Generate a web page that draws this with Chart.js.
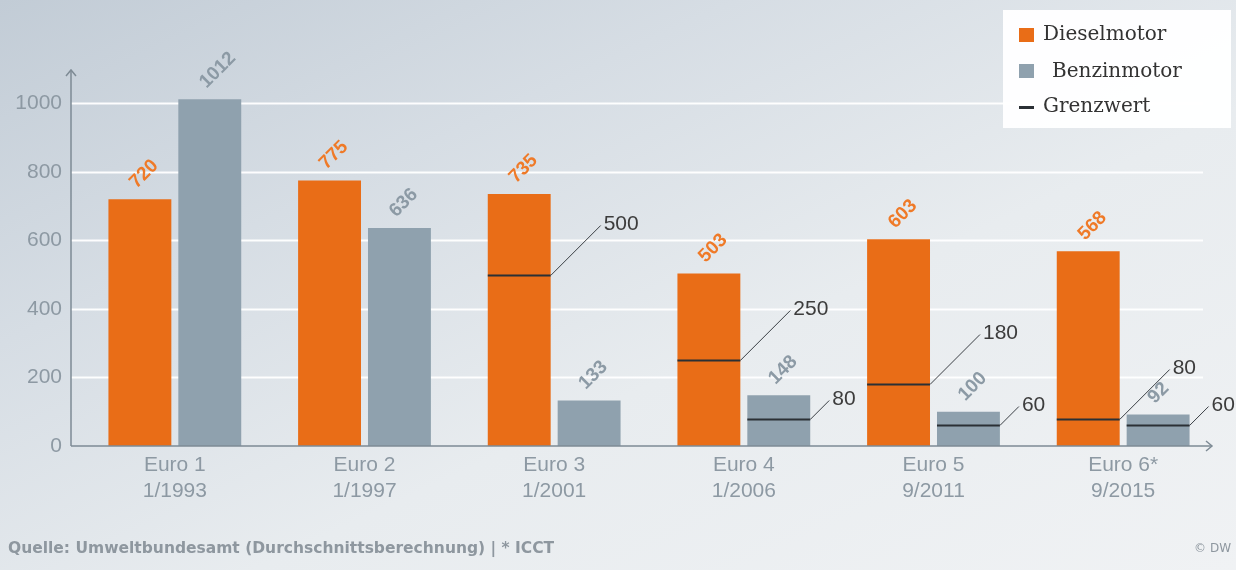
<!DOCTYPE html>
<html>
<head>
<meta charset="utf-8">
<script src="https://cdn.jsdelivr.net/npm/chart.js@4.4.1/dist/chart.umd.min.js"></script>
<style>
  html, body { margin: 0; padding: 0; }
  body {
    width: 1236px; height: 570px; overflow: hidden;
    background: linear-gradient(155deg, #c2ccd6 0%, #d6dde4 30%, #e8ecef 60%, #f0f2f4 100%);
  }
  #wrap { position: relative; width: 1236px; height: 570px; }
</style>
</head>
<body>
<div id="wrap"><canvas id="c" width="1236" height="570"></canvas></div>
<script>
// Emission categories (norm and date it came into force)
const categories = [
  ["Euro 1", "1/1993"],
  ["Euro 2", "1/1997"],
  ["Euro 3", "1/2001"],
  ["Euro 4", "1/2006"],
  ["Euro 5", "9/2011"],
  ["Euro 6*", "9/2015"]
];
// Average NOx emissions (mg/km)
const dieselValues = [720, 775, 735, 503, 603, 568];
const petrolValues = [1012, 636, 133, 148, 100, 92];
// Legal limits (Grenzwert), null where no limit is shown
const dieselLimits = [null, null, 500, 250, 180, 80];
const petrolLimits = [null, null, null, 80, 60, 60];
// Y axis tick values
const yTicks = [0, 200, 400, 600, 800, 1000];

const seriesNames = ["Dieselmotor", "Benzinmotor", "Grenzwert"];
const ORANGE = "#e96d17";
const GREY = "#8fa1ae";
const AXIS = "#7e8b95";
const TICK_TEXT = "#8d99a3";
const SANS = "'Liberation Sans', Arial, sans-serif";

const overlay = {
  id: "overlay",
  beforeDatasetsDraw(chart) {
    const { ctx, scales: { y }, chartArea } = chart;
    ctx.save();
    ctx.strokeStyle = "rgba(255,255,255,0.95)";
    ctx.lineWidth = 2;
    yTicks.forEach(v => {
      if (v === 0) return;
      const py = Math.round(y.getPixelForValue(v)) + 0.5;
      ctx.beginPath();
      ctx.moveTo(chartArea.left - 9, py);
      ctx.lineTo(chartArea.right - 15, py);
      ctx.stroke();
    });
    ctx.restore();
  },
  afterDatasetsDraw(chart) {
    const { ctx, scales: { y }, chartArea } = chart;
    const ax = chartArea.left - 9;
    const ay = y.getPixelForValue(0);
    ctx.save();

    // axes with arrow heads
    ctx.strokeStyle = AXIS;
    ctx.lineWidth = 1.5;
    ctx.beginPath();
    ctx.moveTo(ax, ay);
    ctx.lineTo(ax, chartArea.top + 1);
    ctx.moveTo(ax, ay);
    ctx.lineTo(chartArea.right - 6, ay);
    ctx.stroke();
    ctx.beginPath();
    ctx.moveTo(ax - 5, chartArea.top + 7);
    ctx.lineTo(ax, chartArea.top + 1);
    ctx.lineTo(ax + 5, chartArea.top + 7);
    ctx.moveTo(chartArea.right - 12, ay - 5);
    ctx.lineTo(chartArea.right - 6, ay);
    ctx.lineTo(chartArea.right - 12, ay + 5);
    ctx.stroke();

    // rotated value labels
    const sets = [
      { meta: chart.getDatasetMeta(0), vals: dieselValues, color: "#ef7a28" },
      { meta: chart.getDatasetMeta(1), vals: petrolValues, color: "#8c9aa5" }
    ];
    ctx.font = "bold 19px " + SANS;
    ctx.textAlign = "left";
    ctx.textBaseline = "middle";
    sets.forEach(s => {
      s.meta.data.forEach((bar, i) => {
        ctx.save();
        ctx.translate(bar.x - 7, bar.y - 14);
        ctx.rotate(-Math.PI / 4);
        ctx.fillStyle = s.color;
        ctx.fillText(String(s.vals[i]), 0, 0);
        ctx.restore();
      });
    });

    // limit lines with leader lines and labels
    const limits = [
      { meta: chart.getDatasetMeta(0), vals: dieselLimits, lead: 50 },
      { meta: chart.getDatasetMeta(1), vals: petrolLimits, lead: 19 }
    ];
    ctx.font = "21px " + SANS;
    ctx.textBaseline = "middle";
    limits.forEach(l => {
      l.meta.data.forEach((bar, i) => {
        const v = l.vals[i];
        if (v === null) return;
        const py = Math.round(y.getPixelForValue(v)) + 0.5;
        const left = bar.x - bar.width / 2;
        const right = bar.x + bar.width / 2;
        ctx.strokeStyle = "#2b3035";
        ctx.lineWidth = 2;
        ctx.beginPath();
        ctx.moveTo(left, py);
        ctx.lineTo(right, py);
        ctx.stroke();
        ctx.strokeStyle = "#3a3f44";
        ctx.lineWidth = 1;
        ctx.beginPath();
        ctx.moveTo(right, py);
        ctx.lineTo(right + l.lead, py - l.lead);
        ctx.stroke();
        ctx.fillStyle = "#3c3c3c";
        ctx.fillText(String(v), right + l.lead + 3, py - l.lead - 1);
      });
    });

    // legend box
    ctx.fillStyle = "rgba(255,255,255,0.96)";
    ctx.fillRect(1003, 10, 228, 118);
    ctx.fillStyle = ORANGE;
    ctx.fillRect(1019, 28, 15, 14);
    ctx.fillStyle = GREY;
    ctx.fillRect(1019, 64, 15, 14);
    ctx.fillStyle = "#2b3035";
    ctx.fillRect(1019, 106, 15, 3);
    ctx.font = "20px 'DejaVu Serif', serif";
    ctx.fillStyle = "#333333";
    ctx.textAlign = "left";
    ctx.textBaseline = "middle";
    ctx.fillText(seriesNames[0], 1043, 35);
    ctx.fillText(seriesNames[1], 1052, 72);
    ctx.fillText(seriesNames[2], 1043, 107);

    // footer
    ctx.font = "bold 15.5px 'DejaVu Sans', Verdana, sans-serif";
    ctx.fillStyle = "#8e979f";
    ctx.textAlign = "left";
    ctx.fillText("Quelle: Umweltbundesamt (Durchschnittsberechnung) | * ICCT", 8, 549);
    ctx.textAlign = "right";
    ctx.font = "12px 'DejaVu Sans', Verdana, sans-serif";
    ctx.fillText("\u00a9 DW", 1231, 549);
    ctx.restore();
  }
};

new Chart(document.getElementById("c"), {
  type: "bar",
  data: {
    labels: categories,
    datasets: [
      { label: seriesNames[0], data: dieselValues, backgroundColor: ORANGE },
      { label: seriesNames[1], data: petrolValues, backgroundColor: GREY }
    ]
  },
  options: {
    responsive: false,
    animation: false,
    devicePixelRatio: 1,
    layout: { padding: { top: 69, right: 18, left: 0, bottom: 0 } },
    datasets: { bar: { categoryPercentage: 0.737, barPercentage: 0.9 } },
    plugins: { legend: { display: false }, tooltip: { enabled: false } },
    scales: {
      x: {
        grid: { display: false, drawTicks: false },
        border: { display: false },
        ticks: { color: TICK_TEXT, font: { family: SANS, size: 21, lineHeight: 1.2 }, padding: 7, maxRotation: 0 },
        afterFit(s) { s.height = 124; }
      },
      y: {
        min: 0, max: 1100,
        grid: { display: false, drawTicks: false },
        border: { display: false },
        afterBuildTicks(s) { s.ticks = yTicks.map(v => ({ value: v })); },
        ticks: { color: TICK_TEXT, font: { family: SANS, size: 21 }, padding: 18, callback: v => String(v) },
        afterFit(s) { s.width = 80; }
      }
    }
  },
  plugins: [overlay]
});
</script>
</body>
</html>
